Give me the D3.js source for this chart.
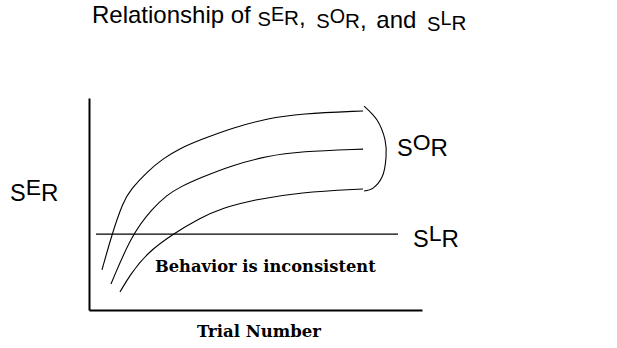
<!DOCTYPE html>
<html lang="en">
<head>
<meta charset="UTF-8">
<title>Relationship of sER, sOR, and sLR</title>
<script src="https://d3js.org/d3.v7.min.js"></script>
<style>
    body{ margin:0; background:#fff; }
    text{ fill:#000; }
    .sans{ font-family:"Liberation Sans", Arial, Helvetica, sans-serif; }
    .serif{ font-family:"DejaVu Serif", serif; font-weight:bold; }
    g.axis path{ stroke:#000; stroke-width:2px; }
</style>
</head>
<body>
<svg width="617" height="348"></svg>
<script>
    // step 1: data (trial % on x, strength % on y)
    let highX = [3.9, 6.9, 10.2, 12.6, 17.4, 22.2, 27.3, 33.3, 43.2, 53.5, 63.4, 82.3];
    let highY = [18.9, 35.8, 50.9, 57.0, 65.1, 71.4, 76.2, 80.2, 86.0, 90.3, 92.6, 93.9];
    let midX  = [6.6, 12.9, 19.2, 23.4, 27.3, 33.3, 43.2, 53.5, 63.4, 82.3];
    let midY  = [12.3, 35.8, 48.1, 54.2, 58.0, 62.3, 68.4, 72.6, 74.8, 75.9];
    let lowX  = [9.3, 12.3, 17.4, 25.2, 33.3, 40.2, 49.2, 63.4, 82.3];
    let lowY  = [8.5, 16.5, 26.9, 35.8, 43.4, 48.1, 51.9, 55.5, 57.1];
    let threshold = 35.8;            // sLR
    let thresholdRange = [2.1, 92.8];
    // bracket grouping the three sOR curves
    let braceX = [82.6, 86.5, 88.9, 89.2, 88.0, 85.3, 82.6];
    let braceY = [96.2, 89.6, 80.2, 72.2, 62.7, 57.5, 56.1];

    let title = "Relationship of ";
    let xLabel = "Trial Number";
    let note = "Behavior is inconsistent";

    //step 2: environment
    let svg = d3.select('svg');

    let xScale = d3.scaleLinear().domain([0, 100]).range([89, 422]);
    let yScale = d3.scaleLinear().domain([0, 100]).range([310, 98]);

    let line = d3.line()
        .x(d => xScale(d[0]))
        .y(d => yScale(d[1]))
        .curve(d3.curveBasis);

    let curves = [d3.zip(highX, highY), d3.zip(midX, midY), d3.zip(lowX, lowY)];

    let figure = svg.append("g");

    figure.selectAll("path.curve")
        .data(curves)
        .enter()
        .append("path")
        .attr("class", "curve")
        .attr("d", line)
        .attr("fill", "none")
        .attr("stroke", "black")
        .attr("stroke-width", 1.1);

    // the bracket is not monotone in x
    figure.append("path")
        .attr("d", line.curve(d3.curveCatmullRom)(d3.zip(braceX, braceY)))
        .attr("fill", "none")
        .attr("stroke", "black")
        .attr("stroke-width", 1.1);

    figure.append("line")
        .attr("x1", xScale(thresholdRange[0]))
        .attr("x2", xScale(thresholdRange[1]))
        .attr("y1", yScale(threshold))
        .attr("y2", yScale(threshold))
        .attr("stroke", "black")
        .attr("stroke-width", 1.1);

    // axes: bare lines, no ticks
    figure.append("g")
        .attr("class", "axis")
        .attr("transform", `translate(${xScale(0)},0)`)
        .call(d3.axisLeft(yScale).tickValues([]).tickSizeOuter(0));
    figure.append("g")
        .attr("class", "axis")
        .attr("transform", `translate(0,${yScale(0)})`)
        .call(d3.axisBottom(xScale).tickValues([]).tickSizeOuter(0));

    // sXR notation: s on a low baseline, raised middle letter, R
    function notation(sel, mid, s, gap){
        sel.append("tspan").attr("font-size", s * 0.84).attr("dx", gap || 0).attr("dy", s * 0.12).text("S");
        sel.append("tspan").attr("font-size", s * 0.82).attr("dy", -s * 0.22).text(mid);
        sel.append("tspan").attr("font-size", s * 0.86).attr("dy", s * 0.2).text("R");
        sel.append("tspan").attr("font-size", s).attr("dy", -s * 0.1).text("");
    }

    let t = svg.append("text").attr("class", "sans")
        .attr("x", 92).attr("y", 23).attr("font-size", 24);
    t.append("tspan").text(title);
    notation(t, "E", 24);
    t.append("tspan").text(", ");
    notation(t, "O", 24, 4);
    t.append("tspan").text(", ");
    t.append("tspan").attr("dx", 3).text("and ");
    notation(t, "L", 24, 4);

    let s1 = svg.append("text").attr("class", "sans").attr("x", 10).attr("y", 198).attr("font-size", 28);
    notation(s1, "E", 28);
    let s2 = svg.append("text").attr("class", "sans").attr("x", 397).attr("y", 153).attr("font-size", 28);
    notation(s2, "O", 28);
    let s3 = svg.append("text").attr("class", "sans").attr("x", 413).attr("y", 244).attr("font-size", 28);
    notation(s3, "L", 28);

    svg.append("text").attr("class", "serif")
        .attr("x", 155).attr("y", 272).attr("font-size", 16.3)
        .text(note);
    svg.append("text").attr("class", "serif")
        .attr("x", 259).attr("y", 337).attr("font-size", 16.5)
        .attr("text-anchor", "middle")
        .text(xLabel);
</script>
</body>
</html>
